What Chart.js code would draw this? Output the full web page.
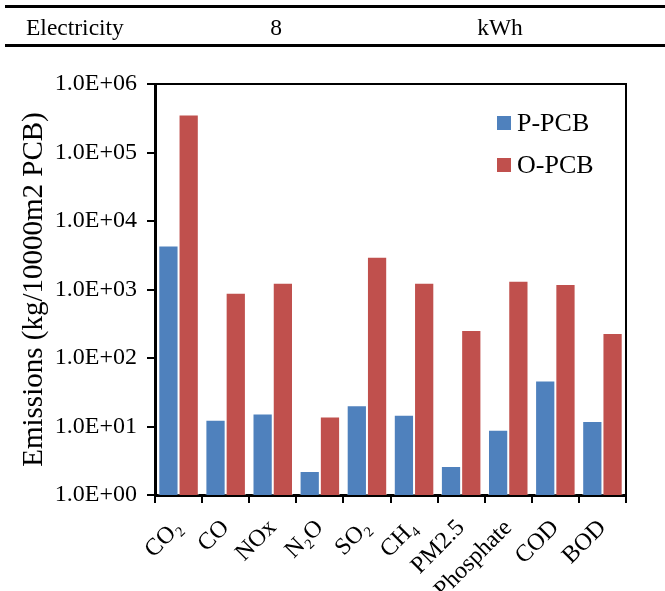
<!DOCTYPE html>
<html><head><meta charset="utf-8">
<script src="https://cdn.jsdelivr.net/npm/chart.js@4/dist/chart.umd.min.js"></script>
<style>
html,body{margin:0;padding:0;background:#fff;}
#wrap{position:relative;width:665px;height:591px;overflow:hidden;}
canvas{position:absolute;left:0;top:0;}
.rule{position:absolute;left:5px;width:660px;height:3px;background:#000;}
.cell{position:absolute;font-family:"Liberation Serif","Times New Roman",serif;font-size:23.5px;color:#000;top:12px;line-height:30px;white-space:nowrap;}
</style></head><body>
<div id="wrap">
<canvas id="c" width="665" height="591"></canvas>
<div class="rule" style="top:5px"></div>
<div class="rule" style="top:44px"></div>
<div class="cell" style="left:26px">Electricity</div>
<div class="cell" style="left:276px;transform:translateX(-50%)">8</div>
<div class="cell" style="left:500px;transform:translateX(-50%)">kWh</div>
</div>
<script>
const categories = ['CO\u2082','CO','NOx','N\u2082O','SO\u2082','CH\u2084','PM2.5','Phosphate','COD','BOD'];
const seriesNames = ['P-PCB','O-PCB'];
const pPCB = [4400, 12.5, 15.5, 2.25, 20.5, 14.8, 2.65, 9.0, 47, 12.0];
const oPCB = [360000, 900, 1250, 14, 3000, 1250, 256, 1340, 1200, 232];
const yTickValues = [1, 10, 100, 1000, 10000, 100000, 1000000];
const yTickLabels = ['1.0E+00','1.0E+01','1.0E+02','1.0E+03','1.0E+04','1.0E+05','1.0E+06'];
const yTitle = 'Emissions (kg/10000m2 PCB)';

const SERIF = '"Liberation Serif","Times New Roman",serif';

const legendPlugin = {
  id: 'insideLegend',
  afterDraw(chart) {
    const ctx = chart.ctx;
    ctx.save();
    ctx.font = '26px ' + SERIF;
    ctx.textBaseline = 'middle';
    chart.data.datasets.forEach((ds, i) => {
      const cy = 123 + i * 42;
      ctx.fillStyle = ds.backgroundColor;
      ctx.fillRect(497, cy - 7, 14, 14);
      ctx.fillStyle = '#000';
      ctx.fillText(ds.label, 517, cy + 1);
    });
    ctx.restore();
  }
};

const framePlugin = {
  id: 'frame',
  afterDraw(chart) {
    const a = chart.chartArea, ctx = chart.ctx;
    ctx.save();
    ctx.strokeStyle = '#000';
    ctx.lineWidth = 2;
    ctx.beginPath();
    ctx.moveTo(a.left, a.top);
    ctx.lineTo(a.right, a.top);
    ctx.lineTo(a.right, a.bottom);
    ctx.stroke();
    ctx.restore();
  }
};

new Chart(document.getElementById('c'), {
  type: 'bar',
  data: {
    labels: categories,
    datasets: [
      { label: seriesNames[0], data: pPCB, backgroundColor: '#4F81BD', borderColor: 'rgba(255,255,255,0.45)', borderWidth: 1 },
      { label: seriesNames[1], data: oPCB, backgroundColor: '#C0504D', borderColor: 'rgba(255,255,255,0.45)', borderWidth: 1 }
    ]
  },
  options: {
    responsive: false,
    devicePixelRatio: 1,
    animation: false,
    layout: { padding: { left: 0, top: 84, right: 39, bottom: 0 } },
    datasets: { bar: { categoryPercentage: 0.86, barPercentage: 1.0 } },
    plugins: { legend: { display: false }, tooltip: { enabled: false }, title: { display: false } },
    scales: {
      x: {
        z: 1,
        grid: { offset: true, drawOnChartArea: false, drawTicks: true, tickLength: 8, color: '#000', lineWidth: 2 },
        border: { display: true, color: '#000', width: 3 },
        ticks: { color: '#000', font: { family: SERIF, size: 24 }, minRotation: 45, maxRotation: 45, autoSkip: false, padding: 11 },
        afterFit(s) { s.height = 96; }
      },
      y: {
        type: 'logarithmic',
        z: 1,
        min: 1,
        max: 1000000,
        afterBuildTicks(s) { s.ticks = yTickValues.map(v => ({ value: v, major: true })); },
        afterFit(s) { s.width = 155; },
        grid: { drawOnChartArea: false, drawTicks: true, tickLength: 8, color: '#000', lineWidth: 2 },
        border: { display: true, color: '#000', width: 3 },
        ticks: {
          color: '#000', font: { family: SERIF, size: 24 }, padding: 10,
          callback: (v, i) => yTickLabels[i]
        },
        title: { display: true, text: yTitle, color: '#000', font: { family: SERIF, size: 29, weight: 'normal' }, padding: { top: 17, bottom: 0 } }
      }
    }
  },
  plugins: [legendPlugin, framePlugin]
});
</script>
</body></html>
